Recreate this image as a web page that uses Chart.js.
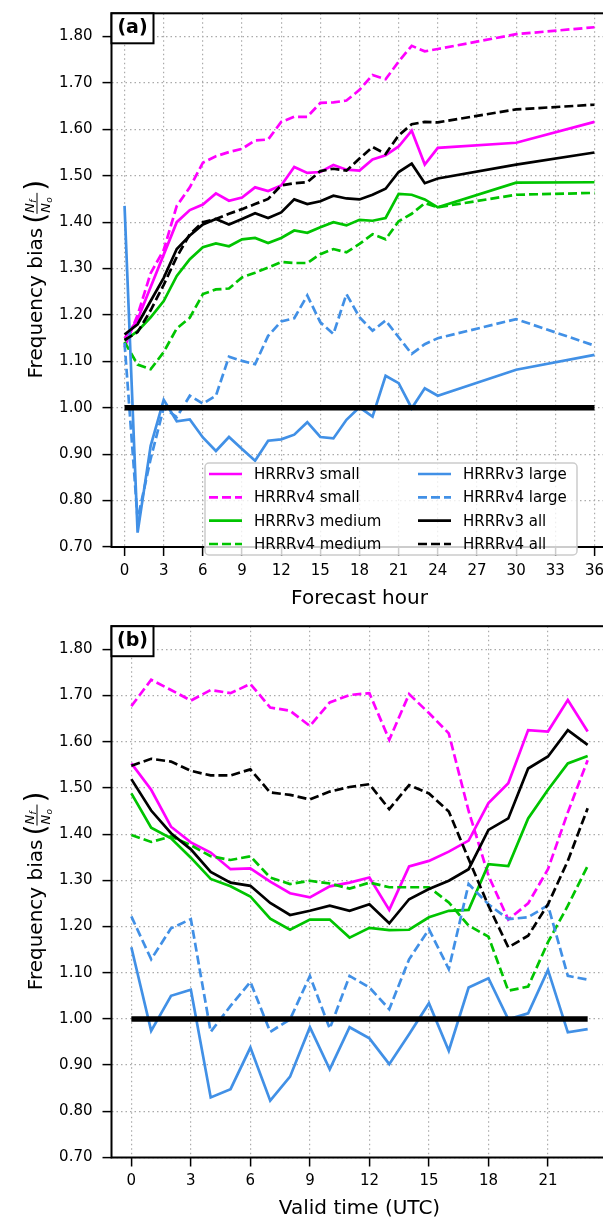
<!DOCTYPE html>
<html>
<head>
<meta charset="utf-8">
<script src="https://cdn.jsdelivr.net/npm/chart.js@4.4.0/dist/chart.umd.min.js"></script>
<style>
  html, body { margin: 0; padding: 0; background: #fff; overflow: hidden; }
  #wrap { position: relative; width: 603px; height: 1221px; overflow: hidden; }
  .panel { position: absolute; left: 0; width: 610px; }
</style>
</head>
<body>
<div id="wrap">
  <div class="panel" style="top:0;height:611px"><canvas id="chartA" width="610" height="611"></canvas></div>
  <div class="panel" style="top:611px;height:610px"><canvas id="chartB" width="610" height="610"></canvas></div>
</div>
<script>
// ---- data: panel (a), by forecast hour ----
const hoursA = [0,1,2,3,4,5,6,7,8,9,10,11,12,13,14,15,16,17,18,19,20,21,22,23,24,30,36];
const v3SmallA = [1.15,1.19,1.26,1.33,1.40,1.426,1.438,1.462,1.446,1.453,1.475,1.467,1.479,1.519,1.506,1.508,1.523,1.513,1.511,1.535,1.544,1.563,1.597,1.524,1.560,1.571,1.616];
const v4SmallA = [1.13,1.20,1.29,1.34,1.435,1.475,1.528,1.542,1.551,1.558,1.576,1.578,1.616,1.627,1.627,1.657,1.658,1.662,1.685,1.717,1.708,1.746,1.780,1.768,1.773,1.805,1.820];
const v3MedA = [1.145,1.165,1.195,1.23,1.284,1.320,1.346,1.354,1.348,1.363,1.366,1.355,1.366,1.382,1.377,1.389,1.400,1.393,1.405,1.403,1.409,1.461,1.459,1.449,1.432,1.485,1.486];
const v4MedA = [1.142,1.093,1.083,1.120,1.171,1.194,1.245,1.255,1.257,1.281,1.291,1.302,1.314,1.312,1.312,1.331,1.342,1.335,1.353,1.374,1.363,1.402,1.418,1.441,1.432,1.459,1.463];
const v3LargeA = [1.435,0.731,0.918,1.017,0.971,0.975,0.936,0.907,0.937,0.911,0.886,0.929,0.932,0.942,0.969,0.937,0.934,0.974,1.001,0.981,1.069,1.053,0.999,1.042,1.026,1.082,1.114];
const v4LargeA = [1.14,0.76,0.89,1.00,0.98,1.026,1.009,1.026,1.110,1.101,1.094,1.155,1.186,1.193,1.242,1.184,1.159,1.245,1.195,1.166,1.188,1.152,1.116,1.137,1.150,1.191,1.134];
const v3AllA = [1.158,1.18,1.23,1.28,1.342,1.371,1.395,1.407,1.395,1.407,1.419,1.409,1.421,1.449,1.439,1.445,1.457,1.451,1.449,1.459,1.472,1.508,1.526,1.484,1.494,1.524,1.550];
const v4AllA = [1.146,1.163,1.21,1.265,1.325,1.374,1.400,1.407,1.418,1.428,1.439,1.450,1.479,1.484,1.486,1.510,1.515,1.511,1.537,1.562,1.547,1.587,1.611,1.616,1.615,1.643,1.653];

// ---- data: panel (b), by valid time (UTC) ----
const hoursB = [0,1,2,3,4,5,6,7,8,9,10,11,12,13,14,15,16,17,18,19,20,21,22,23];
const v3SmallB = [1.553,1.496,1.416,1.382,1.360,1.324,1.326,1.297,1.272,1.263,1.287,1.295,1.306,1.236,1.330,1.342,1.362,1.386,1.467,1.510,1.625,1.622,1.690,1.622];
const v4SmallB = [1.677,1.734,1.712,1.689,1.712,1.705,1.725,1.674,1.667,1.634,1.685,1.701,1.705,1.604,1.703,1.662,1.618,1.450,1.310,1.215,1.250,1.324,1.447,1.560];
const v3MedB = [1.488,1.414,1.391,1.349,1.303,1.287,1.265,1.217,1.193,1.215,1.215,1.176,1.197,1.192,1.193,1.220,1.234,1.236,1.335,1.331,1.434,1.496,1.553,1.569];
const v4MedB = [1.398,1.383,1.395,1.376,1.352,1.344,1.352,1.306,1.292,1.299,1.293,1.282,1.295,1.285,1.285,1.285,1.252,1.202,1.178,1.061,1.070,1.166,1.245,1.331];
const v3LargeB = [1.155,0.974,1.050,1.063,0.830,0.848,0.938,0.823,0.875,0.982,0.891,0.982,0.958,0.902,0.967,1.034,0.931,1.068,1.088,0.999,1.012,1.106,0.971,0.978];
const v4LargeB = [1.222,1.129,1.196,1.216,0.972,1.028,1.080,0.972,0.999,1.093,0.979,1.093,1.068,1.021,1.129,1.194,1.108,1.292,1.248,1.216,1.220,1.246,1.093,1.085];
const v3AllB = [1.519,1.451,1.402,1.367,1.318,1.295,1.288,1.251,1.225,1.234,1.245,1.234,1.248,1.207,1.259,1.281,1.299,1.324,1.409,1.434,1.542,1.568,1.625,1.593];
const v4AllB = [1.548,1.563,1.557,1.537,1.527,1.527,1.540,1.490,1.485,1.475,1.492,1.502,1.508,1.454,1.506,1.488,1.449,1.346,1.245,1.155,1.180,1.248,1.342,1.456];

// ---- labels and ticks ----
const seriesNames = ['HRRRv3 small','HRRRv4 small','HRRRv3 medium','HRRRv4 medium','HRRRv3 large','HRRRv4 large','HRRRv3 all','HRRRv4 all'];
const xTicksA = [0,3,6,9,12,15,18,21,24,27,30,33,36];
const xTicksB = [0,3,6,9,12,15,18,21];
const yTicks = [0.7,0.8,0.9,1.0,1.1,1.2,1.3,1.4,1.5,1.6,1.7,1.8];
const refValue = 1.0;

// ---- styles ----
const MAGENTA = '#ff00ff', GREEN = '#00c400', BLUE = '#4190e6', BLACK = '#000000';
const DASH = [9, 4];
const LW = 2.7;
const seriesStyle = [
  { color: MAGENTA, dash: [] }, { color: MAGENTA, dash: DASH },
  { color: GREEN, dash: [] },   { color: GREEN, dash: DASH },
  { color: BLUE, dash: [] },    { color: BLUE, dash: DASH },
  { color: BLACK, dash: [] },   { color: BLACK, dash: DASH }
];
const FONT = '"DejaVu Sans", sans-serif';
Chart.defaults.font.family = FONT;
Chart.defaults.color = '#000';

function xy(xs, ys) { return xs.map((x, i) => ({ x: x, y: ys[i] })); }

// axes box, drawn over the lines like matplotlib spines
const spinesPlugin = {
  id: 'spines',
  afterDatasetsDraw(chart) {
    const a = chart.chartArea, ctx = chart.ctx;
    ctx.save();
    ctx.strokeStyle = '#000';
    ctx.lineWidth = 2;
    ctx.strokeRect(a.left, a.top, a.right - a.left, a.bottom - a.top);
    ctx.restore();
  }
};

// y title with the Nf/No fraction
function drawYTitle(chart) {
  const ctx = chart.ctx, a = chart.chartArea;
  ctx.save();
  ctx.translate(37, (a.top + a.bottom) / 2);
  ctx.rotate(-Math.PI / 2);
  ctx.fillStyle = '#000';
  ctx.textBaseline = 'middle';
  ctx.textAlign = 'left';
  ctx.font = '20px ' + FONT;
  const main = 'Frequency bias';
  const wMain = ctx.measureText(main).width;
  const total = wMain + 4 + 9 + 24 + 9;
  let x = -total / 2;
  ctx.fillText(main, x, 0);
  x += wMain + 4;
  ctx.font = '28px ' + FONT;
  ctx.fillText('(', x, 1);
  x += 9;
  // numerator / denominator
  ctx.font = 'italic 13px ' + FONT;
  ctx.textBaseline = 'alphabetic';
  ctx.fillText('N', x + 2, -3);
  ctx.fillText('N', x + 2, 13);
  ctx.font = 'italic 9px ' + FONT;
  ctx.fillText('f', x + 12, -1);
  ctx.fillText('o', x + 12, 15);
  ctx.fillRect(x + 1, -0.5, 21, 1);
  x += 24;
  ctx.font = '28px ' + FONT;
  ctx.textBaseline = 'middle';
  ctx.fillText(')', x, 1);
  ctx.restore();
}

function drawPanelLabel(chart, label) {
  const ctx = chart.ctx, a = chart.chartArea;
  ctx.save();
  ctx.fillStyle = '#fff';
  ctx.fillRect(a.left, a.top, 42, 30);
  ctx.strokeStyle = '#000';
  ctx.lineWidth = 2;
  ctx.strokeRect(a.left, a.top, 42, 30);
  ctx.fillStyle = '#000';
  ctx.font = 'bold 19px ' + FONT;
  ctx.textAlign = 'center';
  ctx.textBaseline = 'middle';
  ctx.fillText(label, a.left + 21, a.top + 15);
  ctx.restore();
}

// two-column legend inside panel (a)
function drawLegend(chart) {
  const ctx = chart.ctx;
  const bx = 205, by = 463, bw = 372, bh = 92, r = 4;
  ctx.save();
  ctx.beginPath();
  ctx.moveTo(bx + r, by);
  ctx.arcTo(bx + bw, by, bx + bw, by + bh, r);
  ctx.arcTo(bx + bw, by + bh, bx, by + bh, r);
  ctx.arcTo(bx, by + bh, bx, by, r);
  ctx.arcTo(bx, by, bx + bw, by, r);
  ctx.closePath();
  ctx.fillStyle = 'rgba(255,255,255,0.8)';
  ctx.fill();
  ctx.strokeStyle = '#cccccc';
  ctx.lineWidth = 1.5;
  ctx.stroke();
  const cols = [{ h0: 209, h1: 242, tx: 254 }, { h0: 418, h1: 451, tx: 463 }];
  const rowY = [474, 497.3, 520.7, 544];
  ctx.font = '15px ' + FONT;
  ctx.textBaseline = 'middle';
  ctx.textAlign = 'left';
  seriesNames.forEach((name, i) => {
    const c = cols[Math.floor(i / 4)], y = rowY[i % 4], st = seriesStyle[i];
    ctx.strokeStyle = st.color;
    ctx.lineWidth = LW;
    ctx.setLineDash(st.dash);
    ctx.beginPath();
    ctx.moveTo(c.h0, y);
    ctx.lineTo(c.h1, y);
    ctx.stroke();
    ctx.setLineDash([]);
    ctx.fillStyle = '#000';
    ctx.fillText(name, c.tx, y + 1);
  });
  ctx.restore();
}

function noScalePadding(s) {
  s.paddingTop = 0; s.paddingBottom = 0; s.paddingLeft = 0; s.paddingRight = 0;
}

function makePanel(id, hours, values, xTicks, xMin, xMax, xTitle, label, axisH, topPad, withLegend) {
  const datasets = [{
    data: xy([hours[0], hours[hours.length - 1]], [refValue, refValue]),
    borderColor: '#000', borderWidth: 5.5, pointRadius: 0, order: 0
  }];
  values.forEach((vals, i) => {
    datasets.push({
      label: seriesNames[i],
      data: xy(hours, vals),
      borderColor: seriesStyle[i].color,
      borderDash: seriesStyle[i].dash,
      borderWidth: LW,
      pointRadius: 0,
      tension: 0,
      order: 10 - i
    });
  });
  return new Chart(document.getElementById(id), {
    type: 'line',
    data: { datasets: datasets },
    options: {
      responsive: false,
      animation: false,
      devicePixelRatio: 1,
      layout: { padding: { left: 0, right: 2.5, top: topPad, bottom: 0 } },
      plugins: { legend: { display: false }, tooltip: { enabled: false } },
      scales: {
        x: {
          type: 'linear', min: xMin, max: xMax,
          afterBuildTicks: s => { s.ticks = xTicks.map(v => ({ value: v })); },
          afterFit: s => { s.height = axisH; noScalePadding(s); },
          ticks: { font: { size: 15 }, padding: 6, maxRotation: 0, autoSkip: false, callback: v => String(v) },
          grid: { color: '#aaaaaa', lineWidth: 1.2, tickLength: 9, tickColor: '#000', tickWidth: 1.5 },
          border: { display: false, dash: [1.5, 3] },
          title: { display: true, text: xTitle, font: { size: 20 }, padding: { top: 0, bottom: 0 } }
        },
        y: {
          type: 'linear', min: 0.70, max: 1.85,
          afterBuildTicks: s => { s.ticks = yTicks.map(v => ({ value: v })); },
          afterFit: s => { s.width = 111.5; noScalePadding(s); },
          ticks: { font: { size: 15 }, padding: 10, autoSkip: false, callback: v => v.toFixed(2) },
          grid: { color: '#aaaaaa', lineWidth: 1.2, tickLength: 9, tickColor: '#000', tickWidth: 1.5 },
          border: { display: false, dash: [1.5, 3] }
        }
      }
    },
    plugins: [spinesPlugin, {
      id: 'decor',
      afterDraw(chart) {
        drawYTitle(chart);
        if (withLegend) drawLegend(chart);
        drawPanelLabel(chart, label);
      }
    }]
  });
}

makePanel('chartA', hoursA, [v3SmallA, v4SmallA, v3MedA, v4MedA, v3LargeA, v4LargeA, v3AllA, v4AllA],
  xTicksA, -1, 37, 'Forecast hour', '(a)', 64, 13.3, true);
makePanel('chartB', hoursB, [v3SmallB, v4SmallB, v3MedB, v4MedB, v3LargeB, v4LargeB, v3AllB, v4AllB],
  xTicksB, -1, 24, 'Valid time (UTC)', '(b)', 63.5, 15.2, false);
</script>
</body>
</html>
